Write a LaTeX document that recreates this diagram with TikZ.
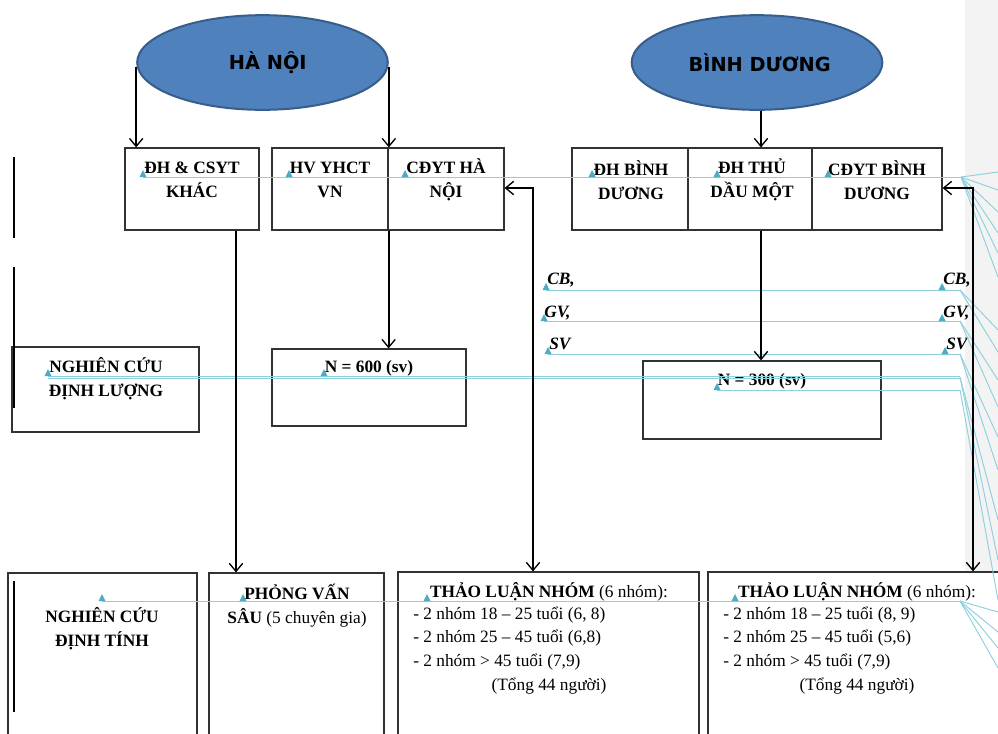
\documentclass[tikz,border=0pt]{standalone}
\usepackage{fontspec}
\setmainfont{Liberation Serif}
\newfontfamily\calib{DejaVu Sans}
\usetikzlibrary{arrows.meta,shapes.geometric,calc,fit}
\definecolor{ellfill}{RGB}{79,129,189}
\definecolor{elldraw}{RGB}{56,93,138}
\definecolor{boxline}{RGB}{50,50,50}
\definecolor{cmt}{RGB}{75,172,198}
\definecolor{cmtl}{RGB}{140,208,222}
\definecolor{strip}{RGB}{243,243,243}
\newcommand\anch[1]{\fill[cmt] ($(#1)+(-3.5,0)$) -- ($(#1)+(3.5,0)$) -- ($(#1)+(0,-7)$) -- cycle;}
\begin{document}
\begin{tikzpicture}[x=0.75pt,y=-0.75pt,
 box/.style={draw=boxline,line width=0.9pt,fill=white,rectangle,inner sep=0pt},
 city/.style={ellipse,draw=elldraw,line width=1.5pt,fill=ellfill,inner sep=0pt,minimum width=188pt,minimum height=71pt,font=\calib\bfseries\fontsize{14.5}{18}\selectfont},
 lbl/.style={font=\bfseries\fontsize{13}{18}\selectfont,align=center,inner sep=0pt},
 ilbl/.style={font=\bfseries\itshape\fontsize{13}{16}\selectfont,inner sep=0pt,anchor=west},
 txt/.style={font=\fontsize{13}{17.5}\selectfont,inner sep=0pt},
 arr/.style={line width=1.4pt,-{Straight Barb[length=6pt,width=10pt,line width=1pt]}},
 darr/.style={line width=1.4pt,{Straight Barb[length=6pt,width=10pt,line width=1pt]}-{Straight Barb[length=6pt,width=10pt,line width=1pt]}},
 bar/.style={line width=2pt},
 cline/.style={draw=cmtl,line width=0.7pt},
]
\useasboundingbox (0,0) rectangle (998,733);
\clip (0,0) rectangle (998,733);
\fill[strip] (965,0) rectangle (998,733);

% cities
\node[city] (hn) at (262.5,62.5) {\hspace*{8pt}HÀ NỘI};
\node[city] (bd) at (757,62.5) {\hspace*{4pt}BÌNH DƯƠNG};

% row 1
\node[box,fit={(125,148) (259,230)}] (dh) {};
\node[box,fit={(272,148) (388,230)}] (hv) {};
\node[box,fit={(388,148) (504,230)}] (cdhn) {};
\node[box,fit={(572,148) (688,230)}] (dhbd) {};
\node[box,fit={(688,148) (812,230)}] (tdm) {};
\node[box,fit={(812,148) (942,230)}] (cdbd) {};
\node[lbl] (dht) at (192,180) {ĐH \& CSYT\\KHÁC};
\node[lbl] (hvt) at (330,180) {HV YHCT\\VN};
\node[lbl] (cdhnt) at (446,180) {CĐYT HÀ\\NỘI};
\node[lbl] (dhbdt) at (631,180) {ĐH BÌNH\\DƯƠNG};
\node[lbl] (tdmt) at (752,180) {ĐH THỦ\\DẦU MỘT};
\node[lbl] (cdbdt) at (877,180) {CĐYT BÌNH\\DƯƠNG};

% row 2
\node[box,fit={(12,347) (199,432)}] (ndl) {};
\node[lbl] (ndlt) at (106,379) {NGHIÊN CỨU\\ĐỊNH LƯỢNG};
\node[box,fit={(272,349) (466,426)}] (n600) {};
\node[lbl] (n600t) at (369,368) {N = 600 (sv)};
\node[box,fit={(643,361) (881,439)}] (n300) {};
\node[lbl] (n300t) at (762,381) {N = 300 (sv)};

\node[ilbl] (cb1) at (547,280) {CB,};
\node[ilbl] (gv1) at (544,313) {GV,};
\node[ilbl] (sv1) at (549,344) {SV};
\node[ilbl] (cb2) at (943,280) {CB,};
\node[ilbl] (gv2) at (943,313) {GV,};
\node[ilbl] (sv2) at (946,344) {SV};

% row 3
\node[box,fit={(8,573) (197,745)}] (ndt) {};
\node[lbl] (ndtt) at (102,629) {NGHIÊN CỨU\\ĐỊNH TÍNH};
\node[box,fit={(209,573) (384,745)}] (pv) {};
\node[lbl] (pvt) at (297,606) {PHỎNG VẤN\\SÂU {\mdseries(5 chuyên gia)}};
\node[box,fit={(398,572) (699,745)}] (tl1) {};
\node[lbl] (tl1h) at (549,592) {THẢO LUẬN NHÓM {\mdseries(6 nhóm):}};
\node[txt,anchor=west] (tl1a) at (413,615) {- 2 nhóm 18 – 25 tuổi (6, 8)};
\node[txt,anchor=west] (tl1b) at (413,638) {- 2 nhóm 25 – 45 tuổi (6,8)};
\node[txt,anchor=west] (tl1c) at (413,662) {- 2 nhóm > 45 tuổi (7,9)};
\node[txt] (tl1t) at (549,686) {(Tổng 44 người)};
\node[box,fit={(708,572) (1006,745)}] (tl2) {};
\node[lbl] (tl2h) at (857,592) {THẢO LUẬN NHÓM {\mdseries(6 nhóm):}};
\node[txt,anchor=west] (tl2a) at (723,615) {- 2 nhóm 18 – 25 tuổi (8, 9)};
\node[txt,anchor=west] (tl2b) at (723,638) {- 2 nhóm 25 – 45 tuổi (5,6)};
\node[txt,anchor=west] (tl2c) at (723,662) {- 2 nhóm > 45 tuổi (7,9)};
\node[txt] (tl2t) at (857,686) {(Tổng 44 người)};

% bars
\draw[bar] (14,157) -- (14,238);
\draw[bar] (14,267) -- (14,408);
\draw[bar] (14,581) -- (14,712);

% comment lines
\draw[cline] (143,177) -- (961,177);
\foreach \t in {172,190,212,233,253,277} \draw[cline] (961,177) -- (998,\t);
\draw[cline] (546,290) -- (960,290);
\foreach \t in {330,352} \draw[cline] (960,290) -- (998,\t);
\draw[cline] (544,321) -- (960,321);
\foreach \t in {380,407} \draw[cline] (960,321) -- (998,\t);
\draw[cline] (548,354) -- (960,354);
\foreach \t in {437,470} \draw[cline] (960,354) -- (998,\t);
\draw[cline] (48,376) -- (960,376);
\draw[cline] (48,378) -- (960,378);
\foreach \t in {520,560} \draw[cline] (960,377) -- (998,\t);
\draw[cline] (717,390) -- (960,390);
\foreach \t in {600} \draw[cline] (960,390) -- (998,\t);
\draw[cline] (102,601) -- (960,601);
\foreach \t in {612,632,648,668} \draw[cline] (960,601) -- (998,\t);
\foreach \p in {{143,177},{289,177},{405,177},{592,177},{717,177},{828,177},
  {546,290},{942,290},{544,321},{942,321},{548,354},{945,354},
  {48,376},{324,376},{717,390},{102,601},{243,601},{427,601},{735,601}}
  {\anch{\p}}

% connectors
\draw[arr] ($(hn.west)+(0,4)$) -- (hn.west |- dh.north);
\draw[arr] ($(hn.east)+(0,4)$) -- (hn.east |- hv.north);
\coordinate (bdx) at (761,0);
\draw[arr] (bdx |- bd.south) -- (bdx |- tdm.north);
\draw[arr] (bdx |- tdm.south) -- (bdx |- n300.north);
\coordinate (lx) at (236,0);
\draw[arr] (lx |- dh.south) -- (lx |- pv.north);
\draw[arr] (hv.south east) -- (hv.south east |- n600.north);
\coordinate (yb) at (0,188);
\coordinate (bx1) at (533,0);
\coordinate (bx2) at (973,0);
\draw[darr] (cdhn.east |- yb) -| (bx1 |- tl1.north);
\draw[darr] (cdbd.east |- yb) -| (bx2 |- tl2.north);
\end{tikzpicture}
\end{document}
